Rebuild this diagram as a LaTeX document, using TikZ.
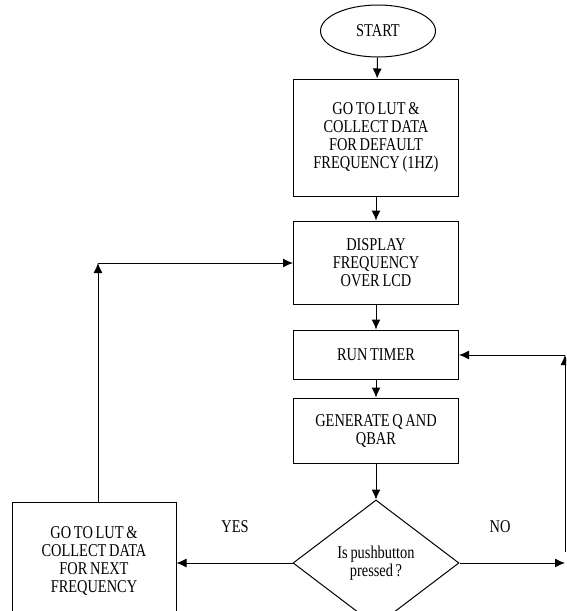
\documentclass[tikz,border=0pt]{standalone}
\usepackage{fontspec}
\setmainfont{Liberation Serif}[FakeStretch=0.8, WordSpace=0.75]
\usepackage{tikz}
\usetikzlibrary{shapes,arrows,arrows.meta}

\begin{document}
\begin{tikzpicture}[x=1pt, y=-1pt,
			>={Latex[length=10pt,width=9pt]},   %Voreinstellung für Pfeilspitzen
			box/.style={draw, rectangle, minimum width=165pt, align=center, inner sep=0pt},
			term/.style={draw, ellipse, minimum width=115pt, minimum height=52pt},
			decide/.style={draw, diamond, minimum width=166pt, minimum height=126pt, inner sep=0pt, align=center},
			every node/.style={font=\fontsize{18}{18}\selectfont},
			line width=1pt]
			%Bildbereich
			\useasboundingbox (0,0) rectangle (566,611);
			\clip (0,0) rectangle (566,611);
			% Knoten zeichnen
			\node[term] (start) at (378,31) {START};
			\node[box, minimum height=117pt] (lut) at (376,137.5) {GO TO LUT \&\\COLLECT DATA\\FOR DEFAULT\\FREQUENCY (1HZ)};
			\node[box, minimum height=83pt] (disp) at (376,262.5) {DISPLAY\\FREQUENCY\\OVER LCD};
			\node[box, minimum height=49pt] (timer) at (376,354.5) {RUN TIMER};
			\node[box, minimum height=65pt] (gen) at (376,430.5) {GENERATE Q AND\\QBAR};
			\node[decide] (push) at (376,563) {Is pushbutton\\pressed ?};
			\node[box, minimum width=164pt, minimum height=118pt] (next) at (94,561) {GO TO LUT \&\\COLLECT DATA\\FOR NEXT\\FREQUENCY};
			% Beschriftung
			\node (yes) at (235,527) {YES};
			\node (no) at (500,527) {NO};
			% Hilfspunkte
			\coordinate (backL) at (98,263);
			\coordinate (backB) at (565,552);
			\coordinate (backT) at (565,355);
			% Pfeile zeichnen
			\draw[->] (start) -- (lut);
			\draw[->] (lut) -- (disp);
			\draw[->] (disp) -- (timer);
			\draw[->] (timer) -- (gen);
			\draw[->] (gen) -- (push);
			\draw[->] (push.west) -- (next.east |- push.west);
			\draw[->] (backL |- next.north) -- (backL);
			\draw[->] (backL) -- (backL -| disp.west);
			\draw[->] (push.east) -- (push.east -| backB);
			\draw[->] (backB) -- (backT);
			\draw[->] (backT) -- (backT -| timer.east);
		\end{tikzpicture}
\end{document}
